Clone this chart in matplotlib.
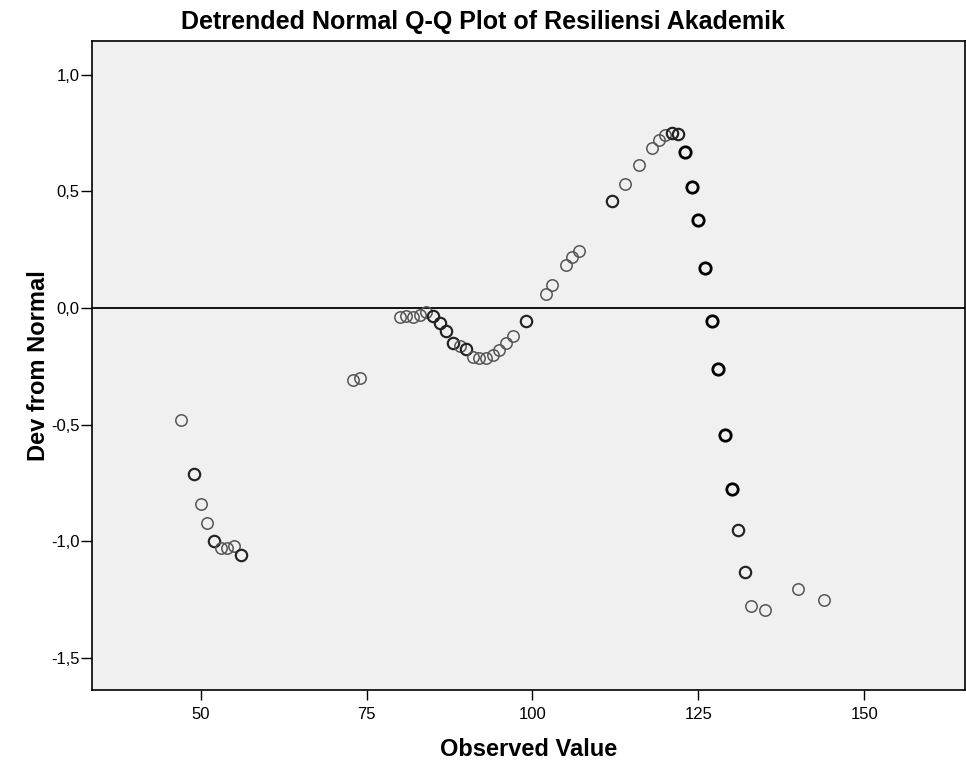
import matplotlib
matplotlib.use("Agg")
import matplotlib.pyplot as plt
from matplotlib.ticker import FuncFormatter

plt.rcParams['font.family'] = ['Liberation Sans', 'DejaVu Sans']

observed = [47, 49, 50, 51, 52, 53, 54, 55, 56,
            73, 74,
            80, 81, 82, 83, 84, 85, 86, 87, 88, 89, 90, 91, 92, 93, 94, 95, 96, 97, 99,
            102, 103, 105, 106, 107,
            112, 114, 116, 118, 119, 120, 121, 122, 123, 124, 125, 126,
            127, 128, 129, 130, 131, 132, 133, 135, 140, 144]
deviation = [-0.48, -0.71, -0.84, -0.92, -1.00, -1.03, -1.03, -1.02, -1.06,
             -0.31, -0.30,
             -0.04, -0.035, -0.04, -0.03, -0.016, -0.035, -0.065, -0.10, -0.148, -0.162,
             -0.177, -0.208, -0.215, -0.212, -0.20, -0.18, -0.15, -0.12, -0.056,
             0.062, 0.098, 0.184, 0.217, 0.244,
             0.457, 0.533, 0.614, 0.687, 0.72, 0.742, 0.751, 0.748, 0.668, 0.521, 0.376, 0.172,
             -0.054, -0.262, -0.543, -0.774, -0.949, -1.131, -1.279, -1.294, -1.205, -1.252]
# how many cases share each value (darker rings where cases overlap)
counts = [1, 2, 1, 1, 2, 1, 1, 1, 2,
          1, 1,
          1, 1, 1, 1, 1, 2, 2, 2, 2, 1, 2, 1, 1, 1, 1, 1, 1, 1, 2,
          1, 1, 1, 1, 1,
          2, 1, 1, 1, 1, 1, 2, 2, 3, 3, 3, 3,
          3, 3, 3, 3, 2, 2, 1, 1, 1, 1]

y_ticks = [-1.5, -1.0, -0.5, 0.0, 0.5, 1.0]
x_ticks = [50, 75, 100, 125, 150]

fig = plt.figure(figsize=(9.66, 7.66), dpi=100)
ax = fig.add_axes([0.0952, 0.0992, 0.9038, 0.8473])
ax.set_facecolor('#f0f0f0')

ax.axhline(0, color='black', linewidth=1.3, zorder=2)

for x, y, c in zip(observed, deviation, counts):
    lw = 1.1 + 0.45 * (c - 1)
    col = '#555555' if c == 1 else ('#222222' if c == 2 else 'black')
    ax.plot(x, y, marker='o', markersize=8.2, markerfacecolor='none',
            markeredgecolor=col, markeredgewidth=lw, linestyle='none', zorder=3)

ax.set_xlim(33.6, 165.2)
ax.set_ylim(-1.637, 1.145)
ax.set_xticks(x_ticks)
ax.set_yticks(y_ticks)
ax.yaxis.set_major_formatter(FuncFormatter(lambda v, p: ('%.1f' % v).replace('.', ',')))
ax.tick_params(axis='x', direction='out', length=7, width=1, labelsize=12, pad=5)
ax.tick_params(axis='y', direction='out', length=8, width=1, labelsize=12, pad=1)

for s in ax.spines.values():
    s.set_color('black')
    s.set_linewidth(1.2)

fig.text(0.5, 0.962, 'Detrended Normal Q-Q Plot of Resiliensi Akademik',
         fontsize=18, fontweight='bold', ha='center', va='baseline')
ax.set_xlabel('Observed Value', fontsize=17, fontweight='bold', labelpad=12)
ax.set_ylabel('Dev from Normal', fontsize=17, fontweight='bold', labelpad=1)

fig.savefig('out.png', dpi=100, facecolor='white')
